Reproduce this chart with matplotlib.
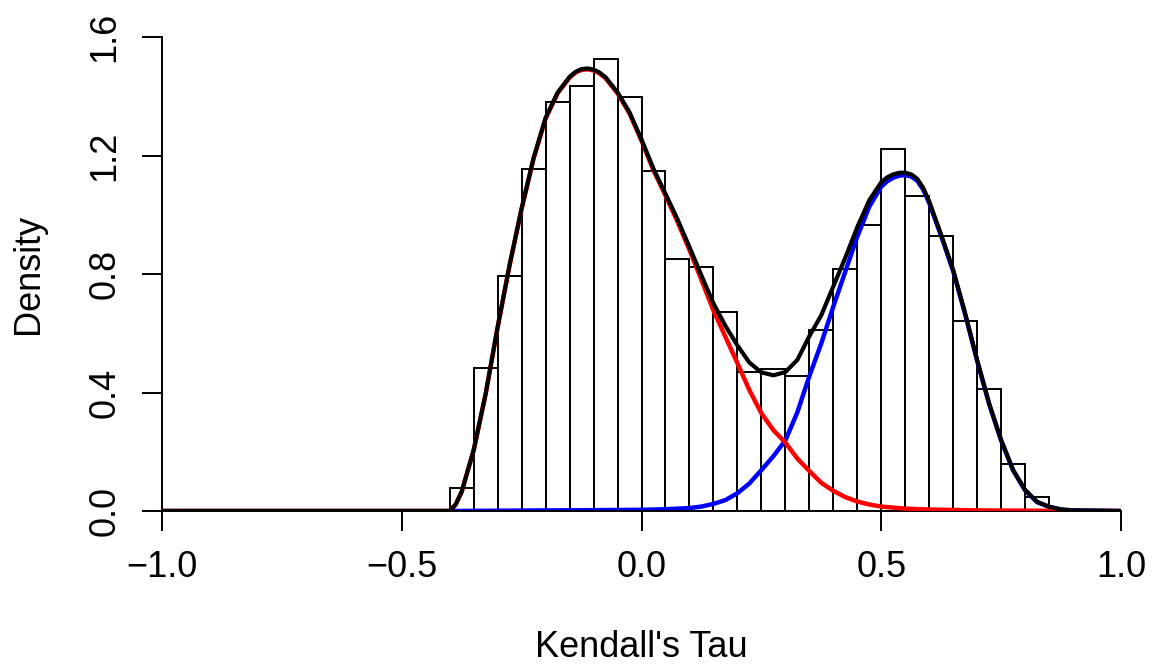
import numpy as np
import matplotlib
matplotlib.use("Agg")
import matplotlib.pyplot as plt

plt.rcParams['font.family'] = ['Liberation Sans', 'DejaVu Sans']

# histogram (density), bins of width 0.05 starting at -0.4
bin_left = np.round(np.arange(-0.40, 0.80 + 1e-9, 0.05), 3)
bin_width = 0.05
heights = [0.077, 0.482, 0.793, 1.153, 1.380, 1.435, 1.525, 1.399, 1.149,
           0.850, 0.825, 0.671, 0.470, 0.478, 0.457, 0.611, 0.817, 0.965,
           1.221, 1.063, 0.929, 0.642, 0.413, 0.159, 0.048]

# fitted component densities
red_x = [-1.0, -0.4, -0.3875, -0.375, -0.35, -0.325, -0.30, -0.275, -0.25,
         -0.225, -0.20, -0.175, -0.15, -0.1375, -0.125, -0.1125, -0.10,
         -0.0875, -0.075, -0.05, -0.025, 0.0, 0.025, 0.05, 0.075, 0.10,
         0.125, 0.15, 0.175, 0.20, 0.225, 0.25, 0.275, 0.30, 0.325, 0.35,
         0.375, 0.40, 0.425, 0.45, 0.475, 0.50, 0.55, 0.60, 0.70, 0.80,
         0.90, 1.0]
red_y = [0.0, 0.0, 0.022, 0.065, 0.205, 0.395, 0.620, 0.830, 1.020,
         1.190, 1.325, 1.410, 1.463, 1.480, 1.489, 1.491, 1.487,
         1.477, 1.461, 1.410, 1.342, 1.250, 1.150, 1.065, 0.977, 0.881,
         0.780, 0.677, 0.588, 0.499, 0.408, 0.330, 0.273, 0.231, 0.177, 0.135,
         0.095, 0.068, 0.047, 0.032, 0.022, 0.015, 0.008, 0.005, 0.002, 0.001,
         0.0, 0.0]

blue_x = [-1.0, -0.4, 0.0, 0.05, 0.10, 0.125, 0.15, 0.175, 0.20, 0.225,
          0.25, 0.275, 0.30, 0.325, 0.35, 0.375, 0.40, 0.425, 0.45, 0.475,
          0.50, 0.5125, 0.525, 0.5375, 0.55, 0.5625, 0.575, 0.5875, 0.60,
          0.625, 0.65, 0.675, 0.70, 0.725, 0.75, 0.775, 0.80, 0.825, 0.85,
          0.875, 0.90, 1.0]
blue_y = [0.0, 0.0, 0.004, 0.006, 0.010, 0.015, 0.024, 0.037, 0.060, 0.093,
          0.138, 0.185, 0.238, 0.333, 0.455, 0.566, 0.690, 0.808, 0.926, 1.027,
          1.095, 1.113, 1.125, 1.132, 1.134, 1.129, 1.115, 1.085, 1.040,
          0.928, 0.810, 0.664, 0.507, 0.361, 0.238, 0.137, 0.070, 0.030, 0.014,
          0.005, 0.002, 0.0]

# mixture = sum of the two components
mix_x = np.union1d(red_x, blue_x)
mix_y = np.interp(mix_x, red_x, red_y) + np.interp(mix_x, blue_x, blue_y)

fig = plt.figure(figsize=(11.6, 6.66), dpi=100)
ax = fig.add_axes([162/1160, 1 - 511/666, (1121 - 162)/1160, (511 - 37)/666])

ax.bar(bin_left, heights, width=bin_width, align='edge', color='white',
       edgecolor='black', linewidth=1.4, zorder=1)

ax.plot(blue_x, blue_y, color='blue', lw=3.2, zorder=2, solid_joinstyle='round')
ax.plot(red_x, red_y, color='red', lw=3.2, zorder=3, solid_joinstyle='round')
ax.plot(mix_x, mix_y, color='black', lw=3.0, zorder=4, solid_joinstyle='round')

ax.set_xlim(-1, 1)
ax.set_ylim(0, 1.6)
ax.set_xticks([-1.0, -0.5, 0.0, 0.5, 1.0])
ax.set_xticklabels(['\u22121.0', '\u22120.5', '0.0', '0.5', '1.0'])
ax.set_yticks([0.0, 0.4, 0.8, 1.2, 1.6])
ax.set_yticklabels(['0.0', '0.4', '0.8', '1.2', '1.6'], rotation=90, va='center')

for s in ['top', 'right']:
    ax.spines[s].set_visible(False)
for s in ['left', 'bottom']:
    ax.spines[s].set_linewidth(1.4)
ax.tick_params(direction='out', length=14.4, width=1.4, labelsize=26, pad=14)
ax.tick_params(axis='y', pad=14)

ax.set_xlabel("Kendall's Tau", fontsize=26, labelpad=32)
ax.set_ylabel('Density', fontsize=26, labelpad=30)

fig.savefig('out.png', dpi=100)
